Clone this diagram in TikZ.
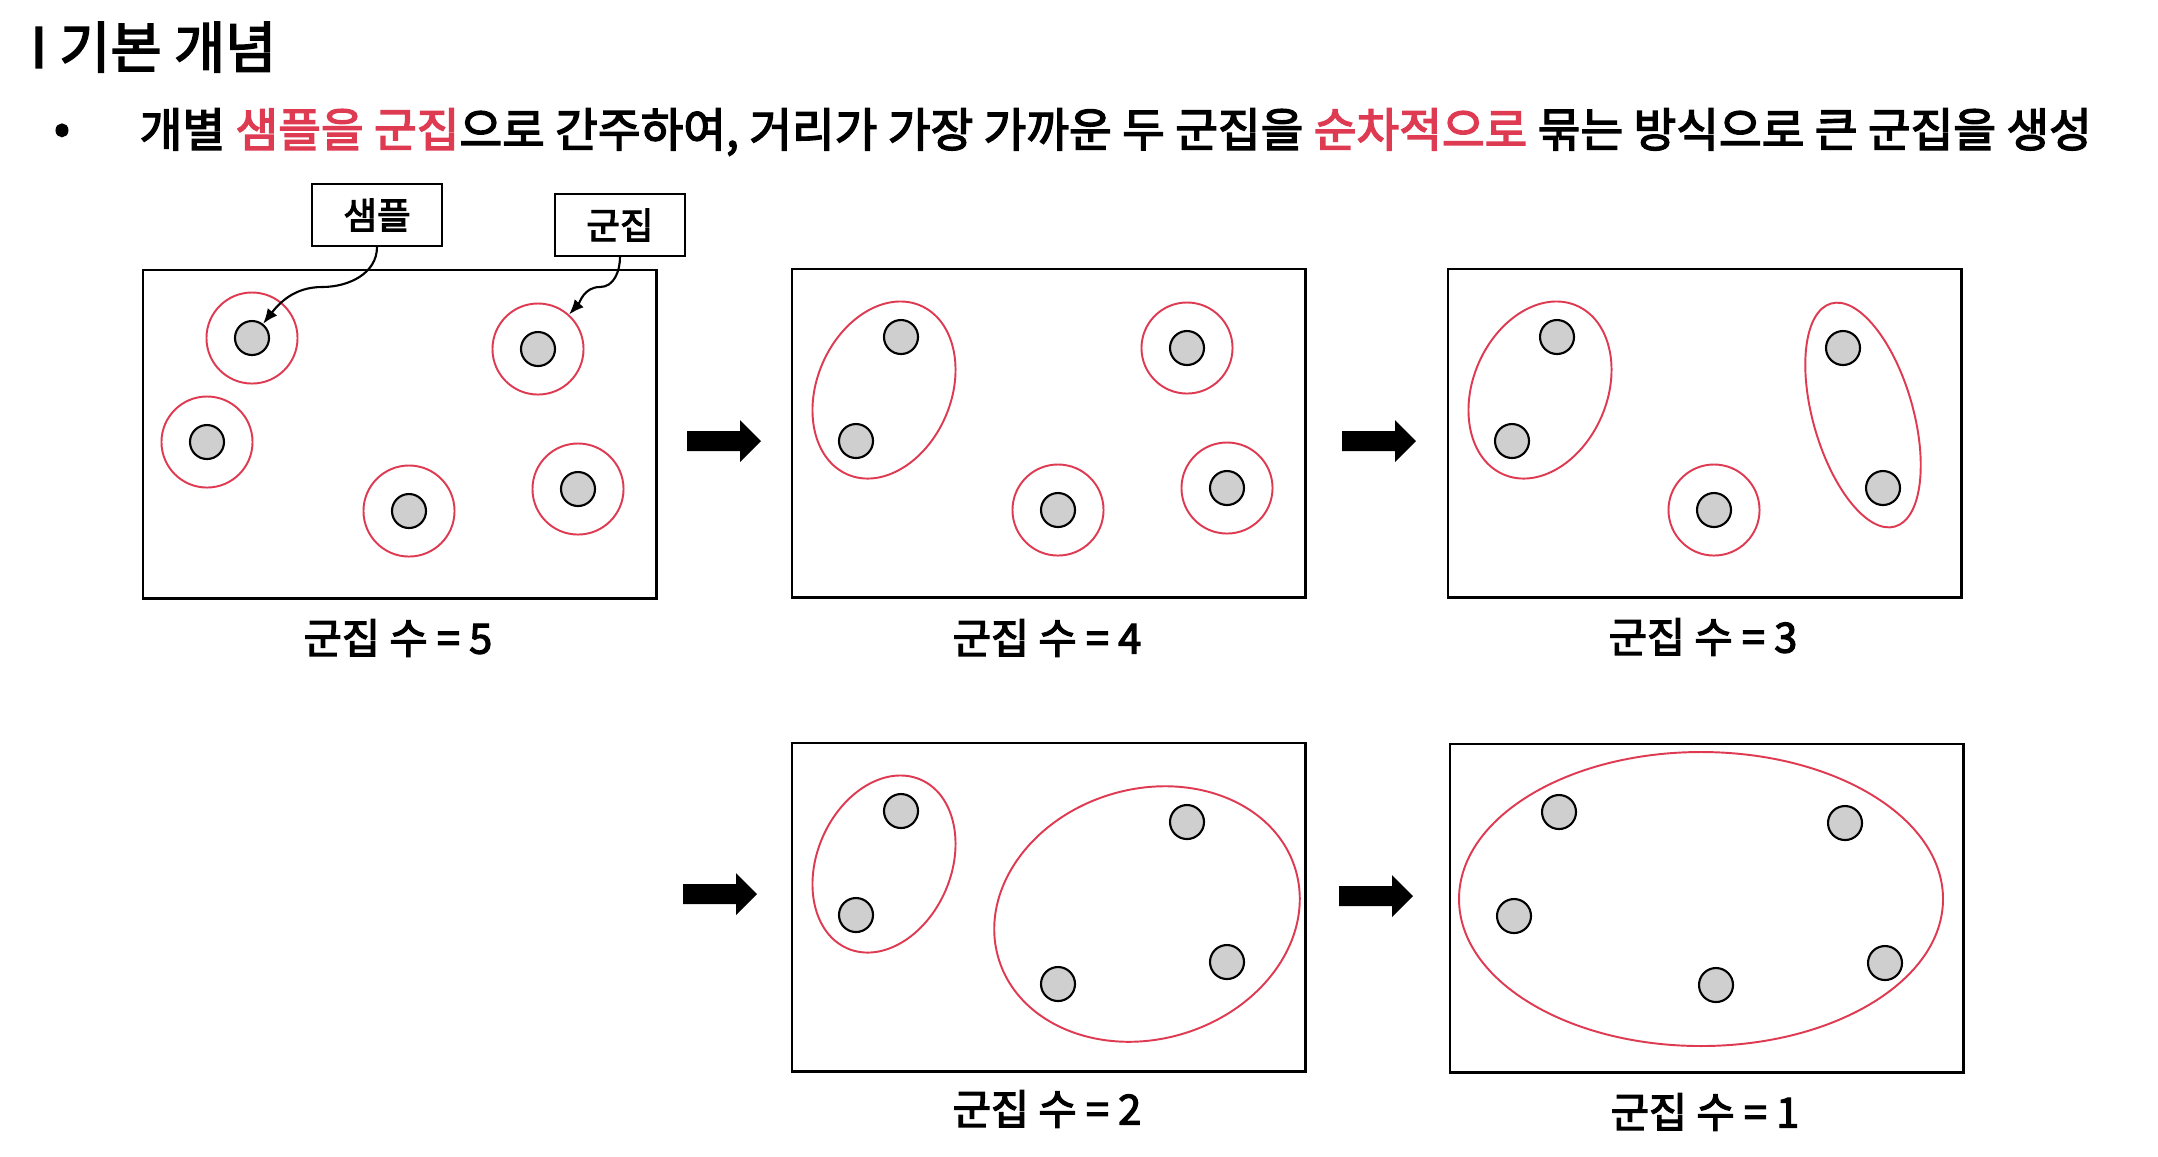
\documentclass[tikz,border=0pt]{standalone}
\usepackage{fontspec}
\setmainfont{Noto Sans CJK KR}[BoldFont={Noto Sans CJK KR Bold}]
\newfontfamily\medfont{Noto Sans CJK KR}[FakeBold=3]
\usetikzlibrary{arrows.meta}
\definecolor{accent}{RGB}{222,58,82}
\definecolor{dotgray}{RGB}{208,207,208}
\tikzset{
  sample/.style={circle, draw=black, fill=dotgray, line width=0.6pt, minimum size=0.34cm, inner sep=0pt},
  ring/.style={circle, draw=accent, line width=0.55pt, minimum size=0.91cm, inner sep=0pt},
  grp/.style={draw=accent, line width=0.55pt},
  panel/.style={draw=black, line width=0.7pt, minimum width=5.13cm, minimum height=3.28cm, anchor=north west, inner sep=0pt},
  callout/.style={draw=black, line width=0.5pt, minimum width=1.3cm, minimum height=0.62cm, inner sep=0pt, font=\fontsize{10.4}{12}\medfont},
  countlabel/.style={font=\fontsize{11.8}{14}\medfont, inner sep=0pt},
  pointer/.style={line width=0.6pt, -{Latex[length=0.15cm,width=0.12cm]}},
  blockarrow/.style={fill=black}
}
\newcommand\placesamples[1]{%
  \node[sample] (#1a) at (110,69) {};
  \node[sample] (#1b) at (396,80) {};
  \node[sample] (#1c) at (65,173) {};
  \node[sample] (#1d) at (267,242) {};
  \node[sample] (#1e) at (436,220) {};
}
\newcommand\blkarrow[2]{%
  \fill[blockarrow] (#1,#2-10) -- (#1+53,#2-10) -- (#1+53,#2-21) -- (#1+74,#2) -- (#1+53,#2+21) -- (#1+53,#2+10) -- (#1,#2+10) -- cycle;
}
\begin{document}
\begin{tikzpicture}[x=0.01cm,y=-0.01cm]
\useasboundingbox[fill=white] (0,0) rectangle (2158,1156);

% title and bullet
\node[anchor=west, inner sep=0pt, font=\fontsize{15.8}{18}\medfont] (title) at (30,47) {I 기본 개념};
\node[inner sep=0pt, font=\fontsize{13.2}{15}\medfont] (dot) at (62,134) {•};
\node[anchor=west, inner sep=0pt, font=\fontsize{13.2}{15}\medfont] (lead) at (139,132)
  {개별 \textcolor{accent}{샘플을 군집}으로 간주하여, 거리가 가장 가까운 두 군집을 \textcolor{accent}{순차적으로} 묶는 방식으로 큰 군집을 생성};

% panel 1
\node[panel] (p1) at (142,269) {};
\begin{scope}[shift={(142,269)}]
  \placesamples{q1}
  \node[ring] (r1a) at (q1a) {};
  \node[ring] (r1b) at (q1b) {};
  \node[ring] (r1c) at (q1c) {};
  \node[ring] (r1d) at (q1d) {};
  \node[ring] (r1e) at (q1e) {};
\end{scope}
\node[countlabel] (l1) at (398,638) {군집 수 = 5};

% callouts
\node[callout] (cs) at (377,215) {샘플};
\node[callout] (cc) at (620,225) {군집};
\coordinate (k1) at (322,287);
\coordinate (k2) at (600,287);
\draw[pointer] (cs.south) to[out=-90,in=0] (k1) to[out=180,in=52] (q1a);
\draw[pointer] (cc.south) to[out=-90,in=0] (k2) to[out=180,in=48] (r1b);

% panel 2
\node[panel] (p2) at (791,268) {};
\begin{scope}[shift={(791,268)}]
  \placesamples{q2}
  \draw[grp, rotate around={66.6:(93,122)}] (93,122) ellipse [x radius=92, y radius=67];
  \node[ring] (r2b) at (q2b) {};
  \node[ring] (r2d) at (q2d) {};
  \node[ring] (r2e) at (q2e) {};
\end{scope}
\node[countlabel] (l2) at (1047,638) {군집 수 = 4};

% panel 3
\node[panel] (p3) at (1447,268) {};
\begin{scope}[shift={(1447,268)}]
  \placesamples{q3}
  \draw[grp, rotate around={66.6:(93,122)}] (93,122) ellipse [x radius=92, y radius=67];
  \draw[grp, rotate around={106:(416,147)}] (416,147) ellipse [x radius=116, y radius=50];
  \node[ring] (r3d) at (q3d) {};
\end{scope}
\node[countlabel] (l3) at (1703,637) {군집 수 = 3};

% panel 4
\node[panel] (p4) at (791,742) {};
\begin{scope}[shift={(791,742)}]
  \placesamples{q4}
  \draw[grp, rotate around={66.6:(93,122)}] (93,122) ellipse [x radius=92, y radius=67];
  \draw[grp, rotate around={16.7:(356,172)}] (356,172) ellipse [x radius=155, y radius=125];
\end{scope}
\node[countlabel] (l4) at (1047,1109) {군집 수 = 2};

% panel 5
\node[panel] (p5) at (1449,743) {};
\begin{scope}[shift={(1449,743)}]
  \placesamples{q5}
  \draw[grp] (252,156) ellipse [x radius=242, y radius=147];
\end{scope}
\node[countlabel] (l5) at (1705,1112) {군집 수 = 1};

% block arrows
\blkarrow{687}{441}
\blkarrow{1342}{441}
\blkarrow{683}{894}
\blkarrow{1339}{896}
\end{tikzpicture}
\end{document}
